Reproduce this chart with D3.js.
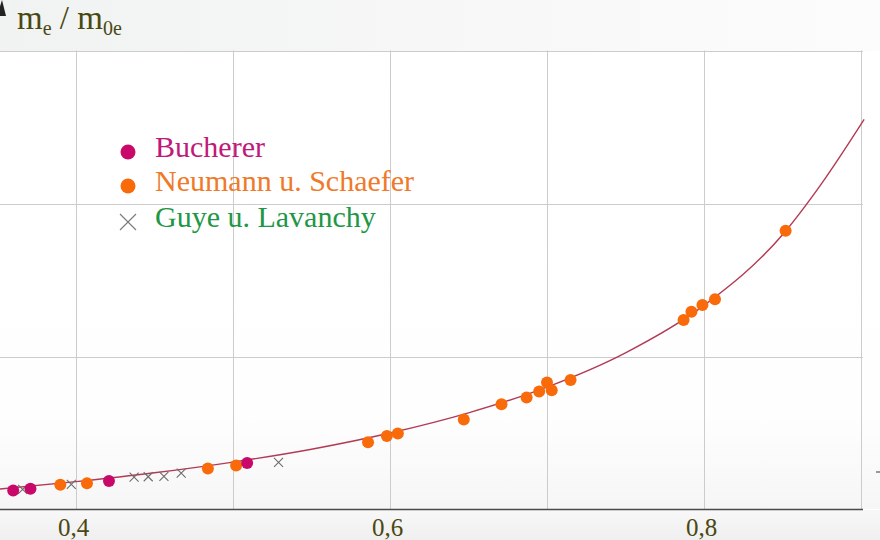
<!DOCTYPE html>
<html><head><meta charset="utf-8">
<script src="https://cdn.jsdelivr.net/npm/d3@7"></script>
<style>
html,body{margin:0;padding:0;background:#fff;}
svg{display:block;}
</style></head>
<body>
<svg id="chart" width="880" height="540"></svg>
<script>
// ---- data: v/c and m_e/m_0e ----
const bucherBeta  = [0.360, 0.371, 0.421, 0.509];
const bucherRatio = [1.062, 1.068, 1.093, 1.152];

const neumannBeta  = [0.390, 0.407, 0.484, 0.502, 0.586, 0.598, 0.605, 0.647, 0.671, 0.687, 0.695, 0.700, 0.703, 0.715, 0.787, 0.792, 0.799, 0.807, 0.852];
const neumannRatio = [1.081, 1.086, 1.134, 1.144, 1.220, 1.240, 1.248, 1.294, 1.344, 1.366, 1.386, 1.415, 1.390, 1.423, 1.619, 1.646, 1.668, 1.687, 1.911];

const guyeBeta  = [0.366, 0.397, 0.437, 0.446, 0.456, 0.467, 0.529];
const guyeRatio = [1.066, 1.082, 1.106, 1.107, 1.108, 1.119, 1.154];

const curveBeta  = [0.350, 0.400, 0.450, 0.500, 0.550, 0.600, 0.650, 0.700, 0.750, 0.800, 0.850, 0.875, 0.902];
const curveRatio = [1.066, 1.091, 1.120, 1.155, 1.197, 1.250, 1.316, 1.400, 1.512, 1.667, 1.898, 2.066, 2.275];

const xTicks = [0.4, 0.6, 0.8];
const xGrid  = [0.4, 0.5, 0.6, 0.7, 0.8, 0.9];
const yGrid  = [1.5, 2.0, 2.5];

const legendNames = ["Bucherer", "Neumann u. Schaefer", "Guye u. Lavanchy"];

// ---- drawing ----
const svg = d3.select("#chart");
const x = d3.scaleLinear().domain([0.4, 0.9]).range([76, 861]);
const y = d3.scaleLinear().domain([1.0, 2.5]).range([509.5, 50.5]);

const defs = svg.append("defs");
const gTop = defs.append("linearGradient").attr("id","gtop").attr("x1","0").attr("x2","1").attr("y1","0").attr("y2","0");
gTop.append("stop").attr("offset","0").attr("stop-color","#f1f2f2");
gTop.append("stop").attr("offset","1").attr("stop-color","#fcfcfc");
const gBot = defs.append("linearGradient").attr("id","gbot").attr("x1","0").attr("x2","0").attr("y1","0").attr("y2","1");
gBot.append("stop").attr("offset","0").attr("stop-color","#f8f8f8");
gBot.append("stop").attr("offset","1").attr("stop-color","#efefef");
const gPlot = defs.append("linearGradient").attr("id","gplot").attr("x1","0").attr("x2","0").attr("y1","0").attr("y2","1");
gPlot.append("stop").attr("offset","0").attr("stop-color","#ffffff");
gPlot.append("stop").attr("offset","0.8").attr("stop-color","#fefefe");
gPlot.append("stop").attr("offset","1").attr("stop-color","#f6f6f6");

svg.append("rect").attr("x",0).attr("y",0).attr("width",880).attr("height",51).attr("fill","url(#gtop)");
svg.append("rect").attr("x",0).attr("y",51).attr("width",880).attr("height",458).attr("fill","url(#gplot)");
svg.append("rect").attr("x",0).attr("y",510).attr("width",880).attr("height",30).attr("fill","url(#gbot)");

// grid
svg.append("g").selectAll("line").data(xGrid).join("line")
  .attr("x1", d => Math.round(x(d)) + 0.5).attr("x2", d => Math.round(x(d)) + 0.5)
  .attr("y1", y(2.5)).attr("y2", y(1.0))
  .attr("stroke", "#cccccc").attr("stroke-width", 1);
svg.append("g").selectAll("line").data(yGrid).join("line")
  .attr("x1", 0).attr("x2", x(0.9) + 2)
  .attr("y1", d => Math.round(y(d)) + 0.5).attr("y2", d => Math.round(y(d)) + 0.5)
  .attr("stroke", "#cccccc").attr("stroke-width", 1);

// x axis
svg.append("line").attr("x1",0).attr("x2",x(0.9)+2).attr("y1",y(1.0)).attr("y2",y(1.0))
  .attr("stroke","#4a4a4a").attr("stroke-width",1.6);
const locale = d3.formatLocale({decimal: ",", thousands: ".", grouping: [3], currency: ["", "€"]});
const xAxis = d3.axisBottom(x).tickValues(xTicks).tickFormat(locale.format(".1f")).tickSize(0).tickPadding(0);
const gx = svg.append("g").attr("transform", `translate(-3,${y(1.0)})`).call(xAxis);
gx.select(".domain").remove();
gx.selectAll("text").attr("font-family","'Liberation Serif', 'DejaVu Serif', serif")
  .attr("font-size", 25).attr("fill", "#4a4812").attr("dy", "1.05em");

// y axis arrow head (cut at left edge)
svg.append("path").attr("d","M-3,16 L2,0 L6,16 Z").attr("fill","#222");
// small mark near the right edge
svg.append("line").attr("x1",876).attr("x2",880).attr("y1",472).attr("y2",472).attr("stroke","#555").attr("stroke-width",1.2);

// y label
const lab = svg.append("text").attr("x",17).attr("y",29)
  .attr("font-family","'Liberation Serif', 'DejaVu Serif', serif").attr("font-size",33).attr("fill","#4a4812");
lab.append("tspan").text("m");
lab.append("tspan").attr("font-size",20).attr("dy",6).text("e");
lab.append("tspan").attr("dy",-6).text(" / m");
lab.append("tspan").attr("font-size",20).attr("dy",6).text("0e");

// curve
const curveData = curveBeta.map((b,i) => ({b, r: curveRatio[i]}));
svg.append("path").datum(curveData)
  .attr("d", d3.line().x(d => x(d.b)).y(d => y(d.r)).curve(d3.curveMonotoneX))
  .attr("fill","none").attr("stroke","#b33a55").attr("stroke-width",1.4);

// points
const cB = "#c8096a", cN = "#f96a0a", cX = "#6d6d6d";
svg.append("g").selectAll("path").data(guyeBeta.map((b,i)=>({b, r: guyeRatio[i]}))).join("path")
  .attr("d", d => { const px = x(d.b), py = y(d.r), s = 4.5;
    return `M${px-s},${py-s}L${px+s},${py+s}M${px-s},${py+s}L${px+s},${py-s}`; })
  .attr("stroke", cX).attr("stroke-width", 1.1).attr("fill","none");
svg.append("g").selectAll("circle").data(neumannBeta.map((b,i)=>({b, r: neumannRatio[i]}))).join("circle")
  .attr("cx", d => x(d.b)).attr("cy", d => y(d.r)).attr("r", 6).attr("fill", cN);
svg.append("g").selectAll("circle").data(bucherBeta.map((b,i)=>({b, r: bucherRatio[i]}))).join("circle")
  .attr("cx", d => x(d.b)).attr("cy", d => y(d.r)).attr("r", 6).attr("fill", cB);

// legend
const legColors = ["#c0197a", "#ef7a2a", "#1e9746"];
const leg = svg.append("g").attr("font-family","'Liberation Serif', 'DejaVu Serif', serif").attr("font-size",30);
const ly = [152, 186, 222];
leg.append("circle").attr("cx",128).attr("cy",ly[0]).attr("r",7.5).attr("fill",cB);
leg.append("circle").attr("cx",128).attr("cy",ly[1]).attr("r",7.5).attr("fill",cN);
leg.append("path").attr("d",`M120,${ly[2]-8}L136,${ly[2]+8}M120,${ly[2]+8}L136,${ly[2]-8}`)
  .attr("stroke","#7a7a7a").attr("stroke-width",1.1);
leg.selectAll("text").data(legendNames).join("text")
  .attr("x",155).attr("y",(d,i)=>ly[i]+5).attr("fill",(d,i)=>legColors[i]).text(d=>d);
</script>
</body></html>
